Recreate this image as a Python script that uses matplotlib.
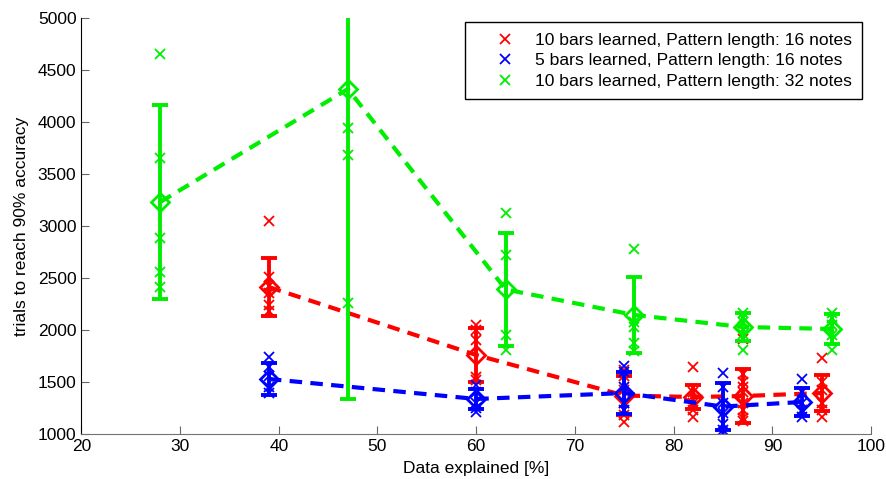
import matplotlib.pyplot as plt

plt.rcParams['font.family'] = ['Liberation Sans', 'DejaVu Sans']

# data
red_x = [39, 60, 75, 82, 87, 95]
red_mean = [2413, 1760, 1370, 1356, 1365, 1394]
red_err = [279, 255, 185, 115, 260, 175]
red_trials = [
    [3050, 2510, 2420, 2356, 2240, 2180],
    [2048, 2000, 1904, 1548, 1519],
    [1615, 1560, 1420, 1300, 1183, 1115],
    [1644, 1400, 1300, 1231, 1163],
    [1915, 1580, 1500, 1450, 1400, 1300, 1230, 1150, 1130],
    [1731, 1500, 1420, 1300, 1231, 1163],
]

blue_x = [39, 60, 75, 85, 93]
blue_mean = [1529, 1337, 1394, 1264, 1308]
blue_err = [158, 95, 200, 226, 133]
blue_trials = [
    [1740, 1644, 1560, 1450, 1394],
    [1471, 1400, 1300, 1250, 1212],
    [1654, 1600, 1450, 1300, 1231],
    [1587, 1450, 1300, 1200, 1100, 1038, 1010],
    [1529, 1400, 1300, 1230, 1163],
]

green_x = [28, 47, 63, 76, 87, 96]
green_mean = [3231, 4317, 2390, 2145, 2029, 2010]
green_err = [928, 2980, 543, 366, 139, 144]
green_trials = [
    [4654, 3654, 2885, 2558, 2413],
    [3942, 3683, 2260],
    [3125, 2721, 1952, 1808],
    [2779, 2080, 2030, 1875, 1800],
    [2163, 2120, 2080, 1960, 1808],
    [2163, 2115, 2050, 1950, 1808],
]

labels = ['10 bars learned, Pattern length: 16 notes',
          '5 bars learned, Pattern length: 16 notes',
          '10 bars learned, Pattern length: 32 notes']

series = [
    (red_x, red_mean, red_err, red_trials, '#ff0000'),
    (blue_x, blue_mean, blue_err, blue_trials, '#0000ff'),
    (green_x, green_mean, green_err, green_trials, '#00ee00'),
]

fig = plt.figure(figsize=(8.86, 4.79), dpi=100)
ax = fig.add_axes([0.0918, 0.0939, 0.8913, 0.8685])

handles = []
for (xs, mean, err, trials, col), lab in zip(series, labels):
    tx = []
    ty = []
    for x, t in zip(xs, trials):
        tx += [x] * len(t)
        ty += t
    h, = ax.plot(tx, ty, 'x', color=col, ms=7, mew=1.3, label=lab)
    handles.append(h)
    ax.errorbar(xs, mean, yerr=err, fmt='none', ecolor=col, elinewidth=2.8,
                capsize=5.5, capthick=2.8)
    ax.plot(xs, mean, 'D', color=col, ms=9.5, mfc='none', mew=2)
    ax.plot(xs, mean, '--', color=col, lw=3, dashes=(3, 2))

ax.set_xlim(20, 100)
ax.set_ylim(1000, 5000)
ax.set_xticks(range(20, 101, 10))
ax.set_yticks(range(1000, 5001, 500))
ax.tick_params(direction='in', length=5.5, labelsize=12.5, color='0.4')
ax.spines['top'].set_visible(False)
ax.spines['right'].set_visible(False)
ax.spines['bottom'].set_color('0.45')
ax.spines['left'].set_color('black')

ax.set_xlabel('Data explained [%]', fontsize=12.5, labelpad=5)
ax.set_ylabel('trials to reach 90% accuracy', fontsize=12.5, labelpad=6)

leg = ax.legend(handles=handles, loc='upper right',
                bbox_to_anchor=(0.9886, 0.9904), borderaxespad=0,
                fontsize=12.6, fancybox=False, framealpha=1,
                edgecolor='black', handlelength=3.3, handletextpad=0.05,
                borderpad=0.6, labelspacing=0.3)
leg.get_frame().set_linewidth(1)

fig.savefig('out.png', dpi=100)
